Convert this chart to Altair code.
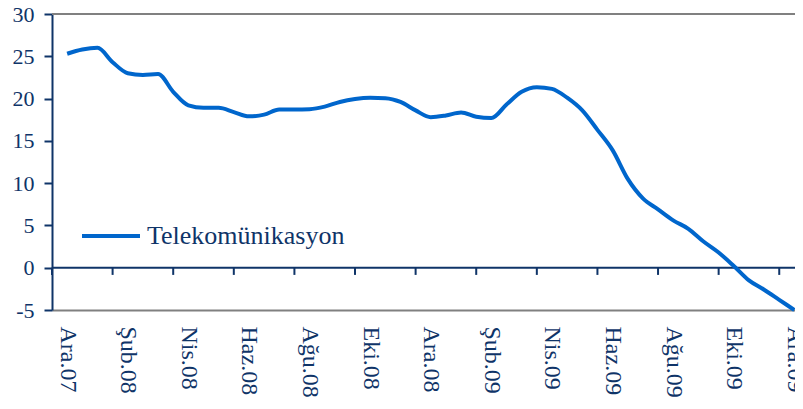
import altair as alt
import pandas as pd

navy = "#0f3468"
blue = "#0066cc"
grey = "#808080"
font = "Liberation Serif"

series_name = "Telekomünikasyon"

# time position in months (Ara.07 centre = 0.5), semi-monthly readings
t_values = [0.5, 1.0, 1.5, 2.0, 2.5, 3.0, 3.5, 4.0, 4.5, 5.0,
            5.5, 6.0, 6.5, 7.0, 7.5, 8.0, 8.5, 9.0, 9.5, 10.0,
            10.5, 11.0, 11.5, 12.0, 12.5, 13.0, 13.5, 14.0, 14.5, 15.0,
            15.5, 16.0, 16.5, 17.0, 17.5, 18.0, 18.5, 19.0, 19.5, 20.0,
            20.5, 21.0, 21.5, 22.0, 22.5, 23.0, 23.5, 24.0, 24.5]
values = [25.3, 25.8, 26.0, 24.3, 23.0, 22.8, 22.9, 20.8, 19.2, 18.9,
          18.9, 18.4, 17.9, 18.1, 18.7, 18.7, 18.75, 19.05, 19.6, 19.95,
          20.1, 20.05, 19.6, 18.6, 17.8, 18.0, 18.35, 17.85, 17.7, 19.3,
          20.8, 21.35, 21.15, 20.1, 18.6, 16.3, 13.9, 10.5, 8.2, 6.9,
          5.6, 4.6, 3.1, 1.8, 0.2, -1.5, -2.6, -3.8, -5.0]

tick_values = [0, 2, 4, 6, 8, 10, 12, 14, 16, 18, 20, 22, 24]
tick_labels = ["Ara.07", "Şub.08", "Nis.08", "Haz.08", "Ağu.08", "Eki.08",
               "Ara.08", "Şub.09", "Nis.09", "Haz.09", "Ağu.09", "Eki.09", "Ara.09"]
y_ticks = [-5, 0, 5, 10, 15, 20, 25, 30]

df = pd.DataFrame({"t": t_values, "v": values, "series": series_name})
ticks_df = pd.DataFrame({"t": tick_values, "v": [0] * len(tick_values),
                         "v2": [-0.85] * len(tick_values)})
zero_df = pd.DataFrame({"v": [0]})
top_df = pd.DataFrame({"v": [30]})

x_scale = alt.Scale(domain=[0, 24.52], nice=False, zero=False)
y_scale = alt.Scale(domain=[-5, 30], nice=False, zero=False)

label_expr = "[" + ",".join("'" + s + "'" for s in tick_labels) + "][round(datum.value / 2)]"

x_axis = alt.Axis(values=tick_values, labelExpr=label_expr, labelAngle=90,
                  labelAlign="left", labelBaseline="middle", labelOffset=15,
                  labelPadding=16, ticks=False, domainColor=grey, domainWidth=2,
                  grid=False, title=None, labelFont=font, labelFontSize=24,
                  labelColor=navy, labelOverlap=False, labelFlush=False,
                  labelBound=False)
y_axis = alt.Axis(values=y_ticks, labelExpr="'' + datum.value",
                  domainColor=navy, domainWidth=2, tickColor=navy,
                  tickSize=8, tickWidth=2, labelFont=font, labelFontSize=22,
                  labelColor=navy, labelPadding=10, grid=False, title=None)

top_rule = alt.Chart(top_df).mark_rule(color=grey, strokeWidth=2).encode(
    y=alt.Y("v:Q", scale=y_scale, axis=y_axis))
zero_rule = alt.Chart(zero_df).mark_rule(color=navy, strokeWidth=2).encode(
    y=alt.Y("v:Q", scale=y_scale, axis=y_axis))
tick_rules = alt.Chart(ticks_df).mark_rule(color=navy, strokeWidth=2).encode(
    x=alt.X("t:Q", scale=x_scale, axis=x_axis),
    y=alt.Y("v:Q", scale=y_scale, axis=y_axis),
    y2="v2:Q")
line = alt.Chart(df).mark_line(strokeWidth=4, interpolate="monotone").encode(
    x=alt.X("t:Q", scale=x_scale, axis=x_axis),
    y=alt.Y("v:Q", scale=y_scale, axis=y_axis),
    color=alt.Color("series:N", scale=alt.Scale(range=[blue]),
                    legend=alt.Legend(orient="none", legendX=28, legendY=191,
                                      title=None, symbolType="stroke",
                                      symbolSize=3364, symbolStrokeWidth=4,
                                      labelFont=font, labelFontSize=26,
                                      labelColor=navy, labelOffset=5,
                                      labelLimit=0)))

chart = alt.layer(top_rule, zero_rule, tick_rules, line).properties(
    width=743, height=296,
    autosize=alt.AutoSizeParams(type="none"),
    padding={"left": 44, "top": 6, "right": 0, "bottom": 91},
).configure_view(stroke=None)

chart.save("out.html", embed_options={"renderer": "svg", "actions": False})
